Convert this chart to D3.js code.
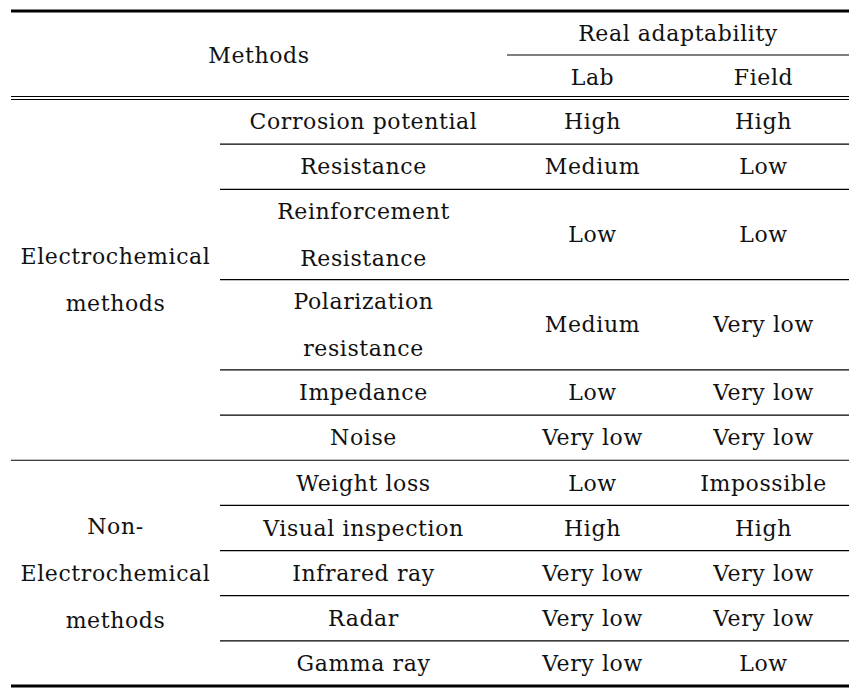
<!DOCTYPE html>
<html lang="en">
<head>
  <meta charset="UTF-8">
  <title>Real adaptability of corrosion methods</title>
  <style>
    body { margin: 0; background: #fff; }
    svg text { font-family: "DejaVu Serif", serif; font-size: 22px; letter-spacing: 0.6px; fill: #111; }
  </style>
</head>
<body>
<div id="table1"></div>
<script src="https://d3js.org/d3.v7.min.js"></script>
<script>
  // Daten der Tabelle
  var groups = [
    { lines: ['Electrochemical', 'methods'], size: 6 },
    { lines: ['Non-', 'Electrochemical', 'methods'], size: 5 }
  ];
  var methods = [
    ['Corrosion potential'], ['Resistance'], ['Reinforcement', 'Resistance'],
    ['Polarization', 'resistance'], ['Impedance'], ['Noise'],
    ['Weight loss'], ['Visual inspection'], ['Infrared ray'], ['Radar'], ['Gamma ray']
  ];
  var lab = ['High', 'Medium', 'Low', 'Medium', 'Low', 'Very low',
             'Low', 'High', 'Very low', 'Very low', 'Very low'];
  var field = ['High', 'Low', 'Low', 'Very low', 'Very low', 'Very low',
               'Impossible', 'High', 'Very low', 'Very low', 'Low'];
  var headerTop = 'Methods';
  var headerSpan = 'Real adaptability';
  var headerCols = ['Lab', 'Field'];

  var width = 856, height = 694;
  var svg = d3.select('#table1').append('svg')
    .attr('width', width).attr('height', height);

  // Spalten: Kanten
  var x = d3.scaleLinear().domain([0, 1, 2, 3, 4]).range([11, 220, 507, 678, 849]);

  // Zeilen: Einheiten (Header 2, Body nach Zeilenanzahl)
  var units = methods.map(function(m) { return m.length; });
  var total = 2 + d3.sum(units);
  var y = d3.scaleLinear().domain([0, 2, total]).range([11, 99, 686]);

  var starts = [];
  var acc = 2;
  units.forEach(function(u) { starts.push(acc); acc += u; });

  function cellText(lines, cx, u0, u1) {
    var mid = (y(u0) + y(u1)) / 2;
    var step = 47;
    lines.forEach(function(t, i) {
      svg.append('text')
        .attr('x', cx)
        .attr('y', mid + (i - (lines.length - 1) / 2) * step)
        .attr('dy', '0.35em')
        .attr('text-anchor', 'middle')
        .text(t);
    });
  }

  function hline(x0, x1, yy, w) {
    svg.append('line')
      .attr('x1', x0).attr('x2', x1)
      .attr('y1', yy).attr('y2', yy)
      .attr('stroke', '#000').attr('stroke-width', w);
  }

  // Header
  cellText([headerTop], (x(0) + x(2)) / 2, 0, 2);
  cellText([headerSpan], (x(2) + x(4)) / 2, 0, 1);
  headerCols.forEach(function(h, i) {
    cellText([h], (x(2 + i) + x(3 + i)) / 2, 1, 2);
  });

  // Gruppen
  var g0 = 0;
  groups.forEach(function(g) {
    var u0 = starts[g0];
    var last = g0 + g.size - 1;
    var u1 = starts[last] + units[last];
    cellText(g.lines, (x(0) + x(1)) / 2, u0, u1);
    g0 += g.size;
  });

  // Body
  methods.forEach(function(m, i) {
    var u0 = starts[i], u1 = u0 + units[i];
    cellText(m, (x(1) + x(2)) / 2, u0, u1);
    cellText([lab[i]], (x(2) + x(3)) / 2, u0, u1);
    cellText([field[i]], (x(3) + x(4)) / 2, u0, u1);
  });

  // Linien
  hline(x(0), x(4), y(0), 3);
  hline(x(2), x(4), y(1), 1.2);
  hline(x(0), x(4), y(2) - 2.5, 1.2);
  hline(x(0), x(4), y(2) + 0.5, 1.2);
  var groupEnds = [];
  var c = 0;
  groups.forEach(function(g) { c += g.size; groupEnds.push(c - 1); });
  methods.forEach(function(m, i) {
    if (i === methods.length - 1) return;
    var yy = y(starts[i] + units[i]);
    var full = groupEnds.indexOf(i) >= 0;
    hline(full ? x(0) : x(1), x(4), yy, 1.2);
  });
  hline(x(0), x(4), y(total), 3);
</script>
</body>
</html>
